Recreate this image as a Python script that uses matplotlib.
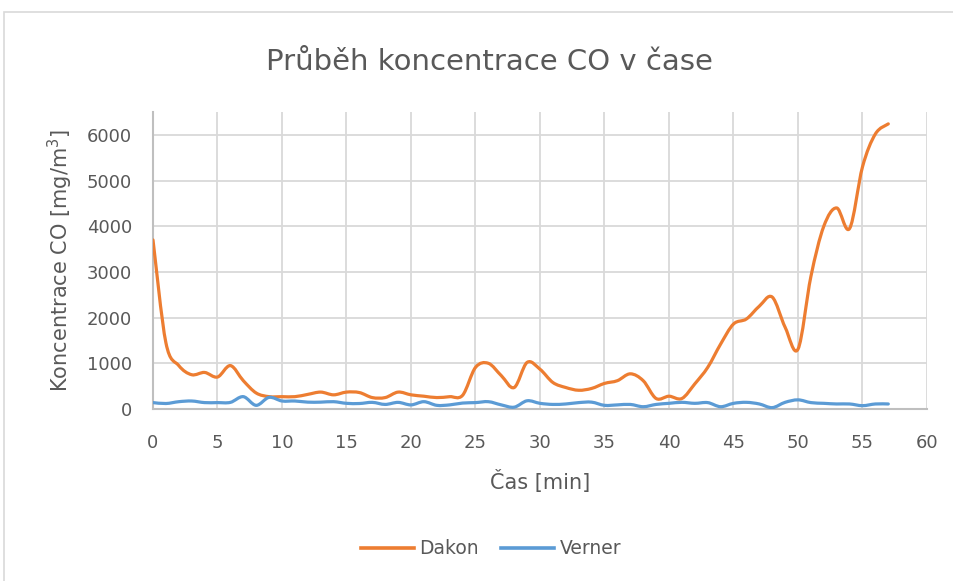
import matplotlib
matplotlib.use("Agg")
import matplotlib.pyplot as plt
from matplotlib.path import Path
from matplotlib.patches import PathPatch, Rectangle
from matplotlib.lines import Line2D
import numpy as np

# minutes 0..57
minutes = list(range(58))
dakon = [3700, 1450, 950, 750, 800, 700, 950, 620, 350, 270,
         270, 270, 320, 370, 310, 370, 360, 250, 250, 370,
         310, 280, 250, 270, 300, 910, 1000, 730, 470, 1020,
         870, 580, 470, 410, 450, 560, 620, 770, 620, 230,
         280, 230, 550, 910, 1420, 1860, 1970, 2250, 2450, 1790,
         1310, 2900, 4000, 4400, 3950, 5300, 6020, 6240]
verner = [140, 120, 160, 175, 140, 140, 145, 270, 80, 255,
          175, 175, 150, 150, 160, 124, 120, 145, 100, 145,
          90, 160, 80, 90, 130, 140, 160, 90, 40, 180,
          124, 100, 110, 140, 150, 80, 90, 100, 50, 100,
          124, 146, 124, 140, 50, 124, 146, 110, 30, 146,
          200, 140, 124, 110, 110, 73, 110, 110]

series_names = ["Dakon", "Verner"]
series_colors = ["#ED7D31", "#5B9BD5"]
xticks = list(range(0, 61, 5))
yticks = list(range(0, 6001, 1000))


def smooth_path(x, y):
    # Excel-like smoothed line: Catmull-Rom segments as cubic Beziers
    x = np.asarray(x, float)
    y = np.asarray(y, float)
    px = np.concatenate([[x[0]], x, [x[-1]]])
    py = np.concatenate([[y[0]], y, [y[-1]]])
    verts = [(x[0], y[0])]
    codes = [Path.MOVETO]
    for i in range(1, len(px) - 2):
        c1 = (px[i] + (px[i + 1] - px[i - 1]) / 6, py[i] + (py[i + 1] - py[i - 1]) / 6)
        c2 = (px[i + 1] - (px[i + 2] - px[i]) / 6, py[i + 1] - (py[i + 2] - py[i]) / 6)
        verts += [c1, c2, (px[i + 1], py[i + 1])]
        codes += [Path.CURVE4] * 3
    return Path(verts, codes)


plt.rcParams["font.family"] = ["DejaVu Sans"]
text_color = "#595959"

fig = plt.figure(figsize=(9.54, 5.81), dpi=100)
fig.patches.append(Rectangle((4 / 954, -0.1), 1.2, 1 - 12 / 581 + 0.1,
                             transform=fig.transFigure, fill=False,
                             edgecolor="#d9d9d9", linewidth=1.2))

ax = fig.add_axes([153 / 954, 1 - 409 / 581, (927 - 153) / 954, (409 - 112) / 581])

for vals, c in zip([dakon, verner], series_colors):
    ax.add_patch(PathPatch(smooth_path(minutes, vals), fill=False, edgecolor=c,
                           linewidth=2.3, capstyle="round", joinstyle="round", zorder=3))

ax.set_xlim(0, 60)
ax.set_ylim(0, 6500)
ax.set_xticks(xticks)
ax.set_yticks(yticks)
ax.grid(True, color="#d9d9d9", linewidth=1.3)
ax.set_axisbelow(True)
for s in ["top", "right"]:
    ax.spines[s].set_visible(False)
for s in ["left", "bottom"]:
    ax.spines[s].set_color("#bfbfbf")
    ax.spines[s].set_linewidth(1.5)
ax.tick_params(length=0, labelsize=13, colors=text_color)
ax.tick_params(axis="y", pad=15)
ax.tick_params(axis="x", pad=18)

ax.set_xlabel("Čas [min]", fontsize=15, color=text_color, va="center")
ax.xaxis.set_label_coords(0.5, (409 - 481) / 297)
ax.set_ylabel("Koncentrace CO [mg/m$^3$]", fontsize=15, color=text_color, va="center")
ax.yaxis.set_label_coords((60 - 153) / 774, 0.5)

fig.text(489 / 954, 1 - 70 / 581, "Průběh koncentrace CO v čase", ha="center",
         va="baseline", fontsize=21, color=text_color)

handles = [Line2D([], [], color=c, linewidth=2.6) for c in series_colors]
fig.legend(handles, series_names, loc="center", bbox_to_anchor=(491 / 954, 1 - 549 / 581),
           ncol=2, frameon=False, fontsize=13.5, labelcolor=text_color,
           handlelength=2.8, columnspacing=1.2, handletextpad=0.3)

fig.savefig("out.png", dpi=100)
